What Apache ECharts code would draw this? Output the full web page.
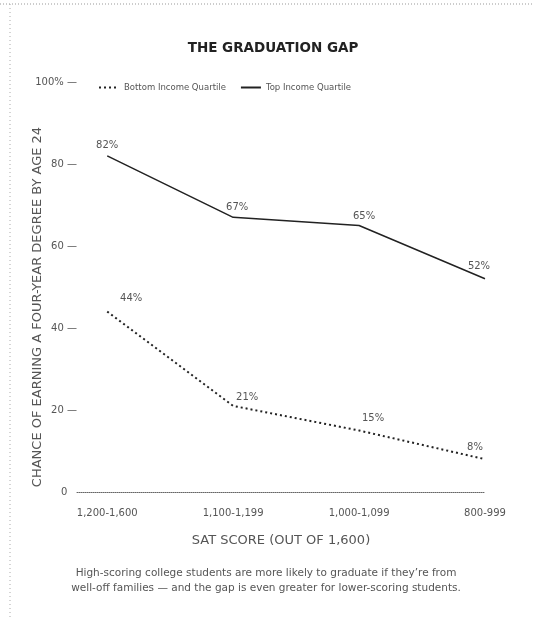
<!DOCTYPE html>
<html>
<head>
<meta charset="utf-8">
<script src="https://cdn.jsdelivr.net/npm/echarts@6/dist/echarts.min.js"></script>
<style>
html,body{margin:0;padding:0;background:#fff;}
#main{width:533px;height:619px;}
</style>
</head>
<body>
<div id="main"></div>
<script>
// data
var categories = ['1,200-1,600', '1,100-1,199', '1,000-1,099', '800-999']
var bottomQuartile = [44, 21, 15, 8]
var topQuartile = [82, 67, 65, 52]

// label nudges, [dx, dy]
var topOffsets = [[0, 0], [4, 0], [5, 1], [-6, -2]]
var bottomOffsets = [[24, -3], [14, 2], [14, -2], [-10, -2]]

function pairs(vals, offs) {
  return vals.map(function (v, i) {
    return { value: [i, v], label: { offset: offs[i] } }
  })
}

var textColor = '#555'
var font = 'DejaVu Sans'

var myChart = echarts.init(document.getElementById('main'))
var option = {
  backgroundColor: '#fff',
  animation: false,
  title: {
    text: 'THE GRADUATION GAP',
    left: 268,
    textAlign: 'center',
    top: 36,
    textStyle: { fontFamily: font, fontSize: 13.5, fontWeight: 'bold', color: '#222' }
  },
  legend: {
    left: 93,
    top: 78,
    itemWidth: 20,
    itemHeight: 8,
    itemGap: 14,
    itemStyle: { color: 'transparent', borderColor: 'transparent', borderWidth: 0 },
    textStyle: { fontFamily: font, fontSize: 8.5, color: textColor },
    data: ['Bottom Income Quartile', 'Top Income Quartile']
  },
  grid: { left: 77, right: 48, top: 82, bottom: 127 },
  xAxis: {
    type: 'value',
    min: -0.24,
    max: 3,
    name: 'SAT SCORE (OUT OF 1,600)',
    nameLocation: 'middle',
    nameGap: 42,
    nameTextStyle: { fontFamily: font, fontSize: 13, color: textColor },
    axisLine: { show: true, lineStyle: { color: '#666', type: 'dotted', width: 1 } },
    axisTick: { show: false },
    splitLine: { show: false },
    axisLabel: {
      customValues: [0, 1, 2, 3],
      margin: 16,
      fontFamily: font,
      fontSize: 10,
      color: textColor,
      formatter: function (v) { return categories[Math.round(v)] || '' }
    }
  },
  yAxis: {
    type: 'value',
    min: 0,
    max: 100,
    interval: 20,
    axisLine: { show: false },
    axisTick: { show: false },
    splitLine: { show: false },
    axisLabel: {
      margin: 0,
      fontFamily: font,
      fontSize: 10,
      color: textColor,
      formatter: function (v) {
        if (v === 0) return '0   '
        if (v === 100) return '100% \u2014'
        return v + ' \u2014'
      }
    }
  },
  graphic: [
    { type: 'line', shape: { x1: 0, y1: 4, x2: 533, y2: 4 }, style: { stroke: '#999', lineDash: [1, 2], lineWidth: 1 } },
    { type: 'line', shape: { x1: 10, y1: 4, x2: 10, y2: 619 }, style: { stroke: '#aaa', lineDash: [1, 3], lineWidth: 1 } },
    {
      type: 'text',
      x: 38,
      y: 307,
      rotation: Math.PI / 2,
      style: {
        text: 'CHANCE OF EARNING A FOUR-YEAR DEGREE BY AGE 24',
        fontFamily: font,
        fontSize: 13,
        align: 'center',
        verticalAlign: 'middle',
        fill: textColor
      }
    },
    {
      type: 'text',
      x: 266,
      y: 566,
      style: {
        text: 'High-scoring college students are more likely to graduate if they\u2019re from\nwell-off families \u2014 and the gap is even greater for lower-scoring students.',
        fontFamily: font,
        fontSize: 10.5,
        lineHeight: 15,
        align: 'center',
        fill: textColor
      }
    }
  ],
  series: [
    {
      name: 'Bottom Income Quartile',
      type: 'line',
      symbol: 'circle',
      symbolSize: 0.01,
      lineStyle: { color: '#222', width: 2, type: [2, 3] },
      itemStyle: { color: '#222' },
      label: {
        show: true,
        position: 'top',
        distance: 5,
        fontFamily: font,
        fontSize: 10,
        color: textColor,
        formatter: function (p) { return p.value[1] + '%' }
      },
      data: pairs(bottomQuartile, bottomOffsets)
    },
    {
      name: 'Top Income Quartile',
      type: 'line',
      symbol: 'circle',
      symbolSize: 0.01,
      lineStyle: { color: '#222', width: 1.5 },
      itemStyle: { color: '#222' },
      label: {
        show: true,
        position: 'top',
        distance: 5,
        fontFamily: font,
        fontSize: 10,
        color: textColor,
        formatter: function (p) { return p.value[1] + '%' }
      },
      data: pairs(topQuartile, topOffsets)
    }
  ]
}
myChart.setOption(option)
</script>
</body>
</html>
